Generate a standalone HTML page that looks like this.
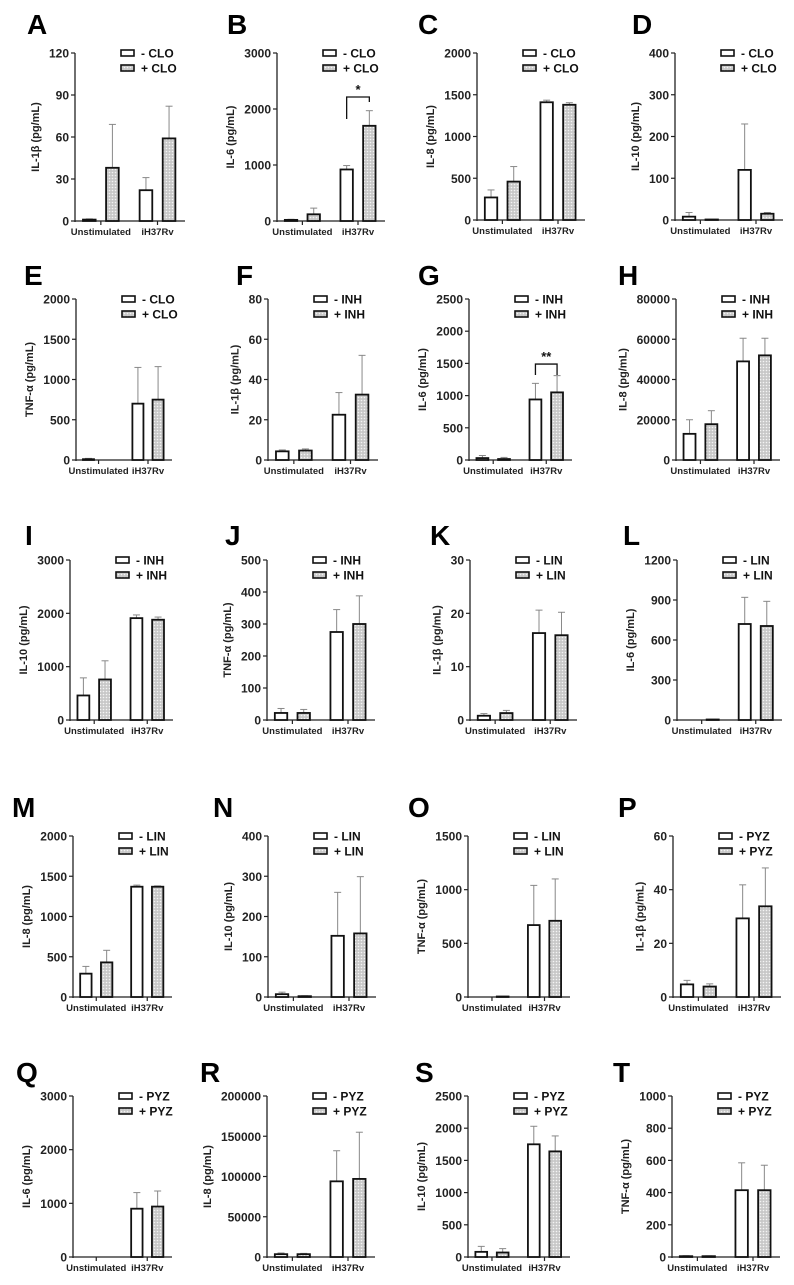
<!DOCTYPE html>
<html>
<head>
<meta charset="utf-8">
<style>
html,body{margin:0;padding:0;background:#fff;}
svg{display:block;font-family:"Liberation Sans",Arial,sans-serif;}
</style>
</head>
<body>
<svg id="fig" width="794" height="1285" viewBox="0 0 794 1285" xmlns="http://www.w3.org/2000/svg">
<defs>
<pattern id="dots" width="3" height="3" patternUnits="userSpaceOnUse">
<rect width="3" height="3" fill="#c8c8c8"/>
<circle cx="1.5" cy="1.5" r="0.8" fill="#f4f4f4"/>
</pattern>
</defs>
</svg>
<script>
// ---- data ----
const panelLetters = ['A','B','C','D','E','F','G','H','I','J','K','L','M','N','O','P','Q','R','S','T'];
const yTitles = ['IL-1β (pg/mL)','IL-6 (pg/mL)','IL-8 (pg/mL)','IL-10 (pg/mL)','TNF-α (pg/mL)',
 'IL-1β (pg/mL)','IL-6 (pg/mL)','IL-8 (pg/mL)','IL-10 (pg/mL)','TNF-α (pg/mL)',
 'IL-1β (pg/mL)','IL-6 (pg/mL)','IL-8 (pg/mL)','IL-10 (pg/mL)','TNF-α (pg/mL)',
 'IL-1β (pg/mL)','IL-6 (pg/mL)','IL-8 (pg/mL)','IL-10 (pg/mL)','TNF-α (pg/mL)'];
const drugs = ['CLO','CLO','CLO','CLO','CLO','INH','INH','INH','INH','INH','LIN','LIN','LIN','LIN','LIN','PYZ','PYZ','PYZ','PYZ','PYZ'];
const categories = ['Unstimulated','iH37Rv'];
const yMax = [120,3000,2000,400,2000,80,2500,80000,3000,500,30,1200,2000,400,1500,60,3000,200000,2500,1000];
const yStep = [30,1000,500,100,500,20,500,20000,1000,100,10,300,500,100,500,20,1000,50000,500,200];
const minusVals = [[1,22],[20,920],[270,1410],[8,120],[10,700],[4.3,22.5],[30,940],[13000,49000],[460,1910],[22,275],
 [0.8,16.3],[0,720],[290,1370],[7,152],[0,670],[4.7,29.3],[0,900],[3500,94000],[80,1750],[5,415]];
const minusErr = [[0.5,9],[10,70],[90,25],[10,110],[10,450],[0.7,11],[40,250],[7000,11500],[330,60],[14,70],
 [0.4,4.3],[0,200],[90,20],[5,108],[0,370],[1.5,12.5],[0,300],[1500,38000],[85,280],[3,170]];
const plusVals = [[38,59],[120,1700],[460,1380],[1,15],[0,750],[4.7,32.5],[15,1050],[17800,52000],[760,1880],[22,300],
 [1.3,15.9],[3,705],[430,1370],[2,158],[3,710],[3.9,33.8],[0,940],[3500,97000],[70,1640],[5,415]];
const plusErr = [[31,23],[110,270],[180,25],[0,3],[0,410],[0.8,19.5],[25,260],[6700,8500],[350,50],[11,88],
 [0.5,4.3],[1,185],[150,10],[1,141],[1,390],[1,14.3],[0,290],[1000,58000],[60,240],[2,155]];
const sigPanels = [1,6];
const sigLabels = ['*','**'];
const sigLevel = [2214,1490];
const sigLeftLeg = [1821,1320];
const sigRightLeg = [2125,1320];

// ---- layout (pixels) ----
const layout = [
 [75,53,221,110],[277,53,221,108],[477,53,220,108],[675,53,220,108],
 [76,299,460,96],[268,299,460,110],[469,299,460,103],[676,299,460,104],
 [70,560,720,103],[267,560,720,108],[470,560,720,107],[677,560,720,105],
 [73,836,997,99],[268,836,997,108],[468,836,997,102],[673,836,997,108],
 [73,1096,1257,99],[267,1096,1257,108],[468,1096,1257,102],[672,1096,1257,108]];
const letterX = [27,227,418,632,24,236,418,618,25,225,430,623,12,213,408,618,16,200,415,613];
const letterY = [34,285,545,817,1082];

const svg = document.getElementById('fig');
const NS = 'http://www.w3.org/2000/svg';
function mk(tag, attrs, parent){
  const e = document.createElementNS(NS, tag);
  for (const k in attrs) e.setAttribute(k, attrs[k]);
  (parent||svg).appendChild(e);
  return e;
}

panelLetters.forEach((L, p) => {
  const [ax, top, base, w] = layout[p];
  const g = mk('g', {});
  
  
  const yScale = v => base - (v / yMax[p]) * (base - top);
  const xGroup = i => ax + (i === 0 ? 0.235 : 0.75) * w;
  const bw = 0.115 * w, off = 0.105 * w;

  const lt = mk('text', {x: letterX[p], y: letterY[Math.floor(p/4)], 'font-size': 28, 'font-weight': 'bold', fill: '#000'}, g);
  lt.textContent = L;
  
  

  const ya = mk('line', {x1: ax, y1: top, x2: ax, y2: base + 1, stroke: '#222', 'stroke-width': 1.3}, g);
  
  
  const xa = mk('line', {x1: ax, y1: base, x2: ax + w, y2: base, stroke: '#222', 'stroke-width': 1.3}, g);
  
  

  let maxLen = 0;
  for (let v = 0; v <= yMax[p] + 1e-9; v += yStep[p]) {
    const y = yScale(v);
    mk('line', {x1: ax - 4, y1: y, x2: ax, y2: y, stroke: '#222', 'stroke-width': 1.2}, g);
    const t = mk('text', {x: ax - 6, y: y + 4.5, 'font-size': 12, 'font-weight': 'bold', 'text-anchor': 'end', fill: '#222'}, g);
    t.textContent = String(v);
    
    
    maxLen = Math.max(maxLen, String(v).length);
  }
  const tx = ax - (maxLen * 6.7 + 16), ty = (top + base) / 2;
  const yt = mk('text', {x: tx, y: ty, 'font-size': 11, 'font-weight': 'bold', 'text-anchor': 'middle', fill: '#222', transform: `rotate(-90 ${tx} ${ty})`}, g);
  yt.textContent = yTitles[p];
  
  

  categories.forEach((c, i) => {
    const x = xGroup(i);
    mk('line', {x1: x, y1: base, x2: x, y2: base + 4, stroke: '#222', 'stroke-width': 1.2}, g);
    const t = mk('text', {x: x, y: base + 14, 'font-size': 9.5, 'font-weight': 'bold', 'text-anchor': 'middle', fill: '#222'}, g);
    t.textContent = c;
    
    
  });

  categories.forEach((c, i) => {
    [[minusVals, minusErr, -1, '#fff'], [plusVals, plusErr, 1, 'url(#dots)']].forEach(([vals, errs, side, fill]) => {
      const v = vals[p][i], e = errs[p][i];
      if (v <= 0) return;
      const cx = xGroup(i) + side * off;
      const yv = yScale(v);
      if (e > 0) {
        const ye = yScale(v + e);
        mk('line', {x1: cx, y1: yv, x2: cx, y2: ye, stroke: '#888', 'stroke-width': 1}, g);
        mk('line', {x1: cx - 3.5, y1: ye, x2: cx + 3.5, y2: ye, stroke: '#888', 'stroke-width': 1}, g);
      }
      const h = Math.max(base - yv, 0.5);
      const r = mk('rect', {x: cx - bw/2, y: base - h, width: bw, height: h, fill: fill, stroke: '#111', 'stroke-width': 1.8}, g);
      
      
    });
  });

  ['- ', '+ '].forEach((s, k) => {
    const ly = top + k * 15;
    const lx = ax + 46;
    mk('rect', {x: lx, y: ly - 3, width: 13, height: 6, fill: k ? 'url(#dots)' : '#fff', stroke: '#111', 'stroke-width': 1.6}, g);
    const t = mk('text', {x: lx + 20, y: ly + 4.5, 'font-size': 12, 'font-weight': 'bold', fill: '#111'}, g);
    t.textContent = s + drugs[p];
    
    
  });

  const si = sigPanels.indexOf(p);
  if (si >= 0) {
    const x1 = xGroup(1) - off, x2 = xGroup(1) + off, yb = yScale(sigLevel[si]);
    const br = mk('path', {d: `M${x1},${yScale(sigLeftLeg[si])} L${x1},${yb} L${x2},${yb} L${x2},${yScale(sigRightLeg[si])}`, fill: 'none', stroke: '#111', 'stroke-width': 1.3}, g);
    
    
    const st = mk('text', {x: (x1 + x2) / 2, y: yb - 3, 'font-size': 13, 'font-weight': 'bold', 'text-anchor': 'middle', fill: '#111'}, g);
    st.textContent = sigLabels[si];
    
    
  }
});
</script>
</body>
</html>
